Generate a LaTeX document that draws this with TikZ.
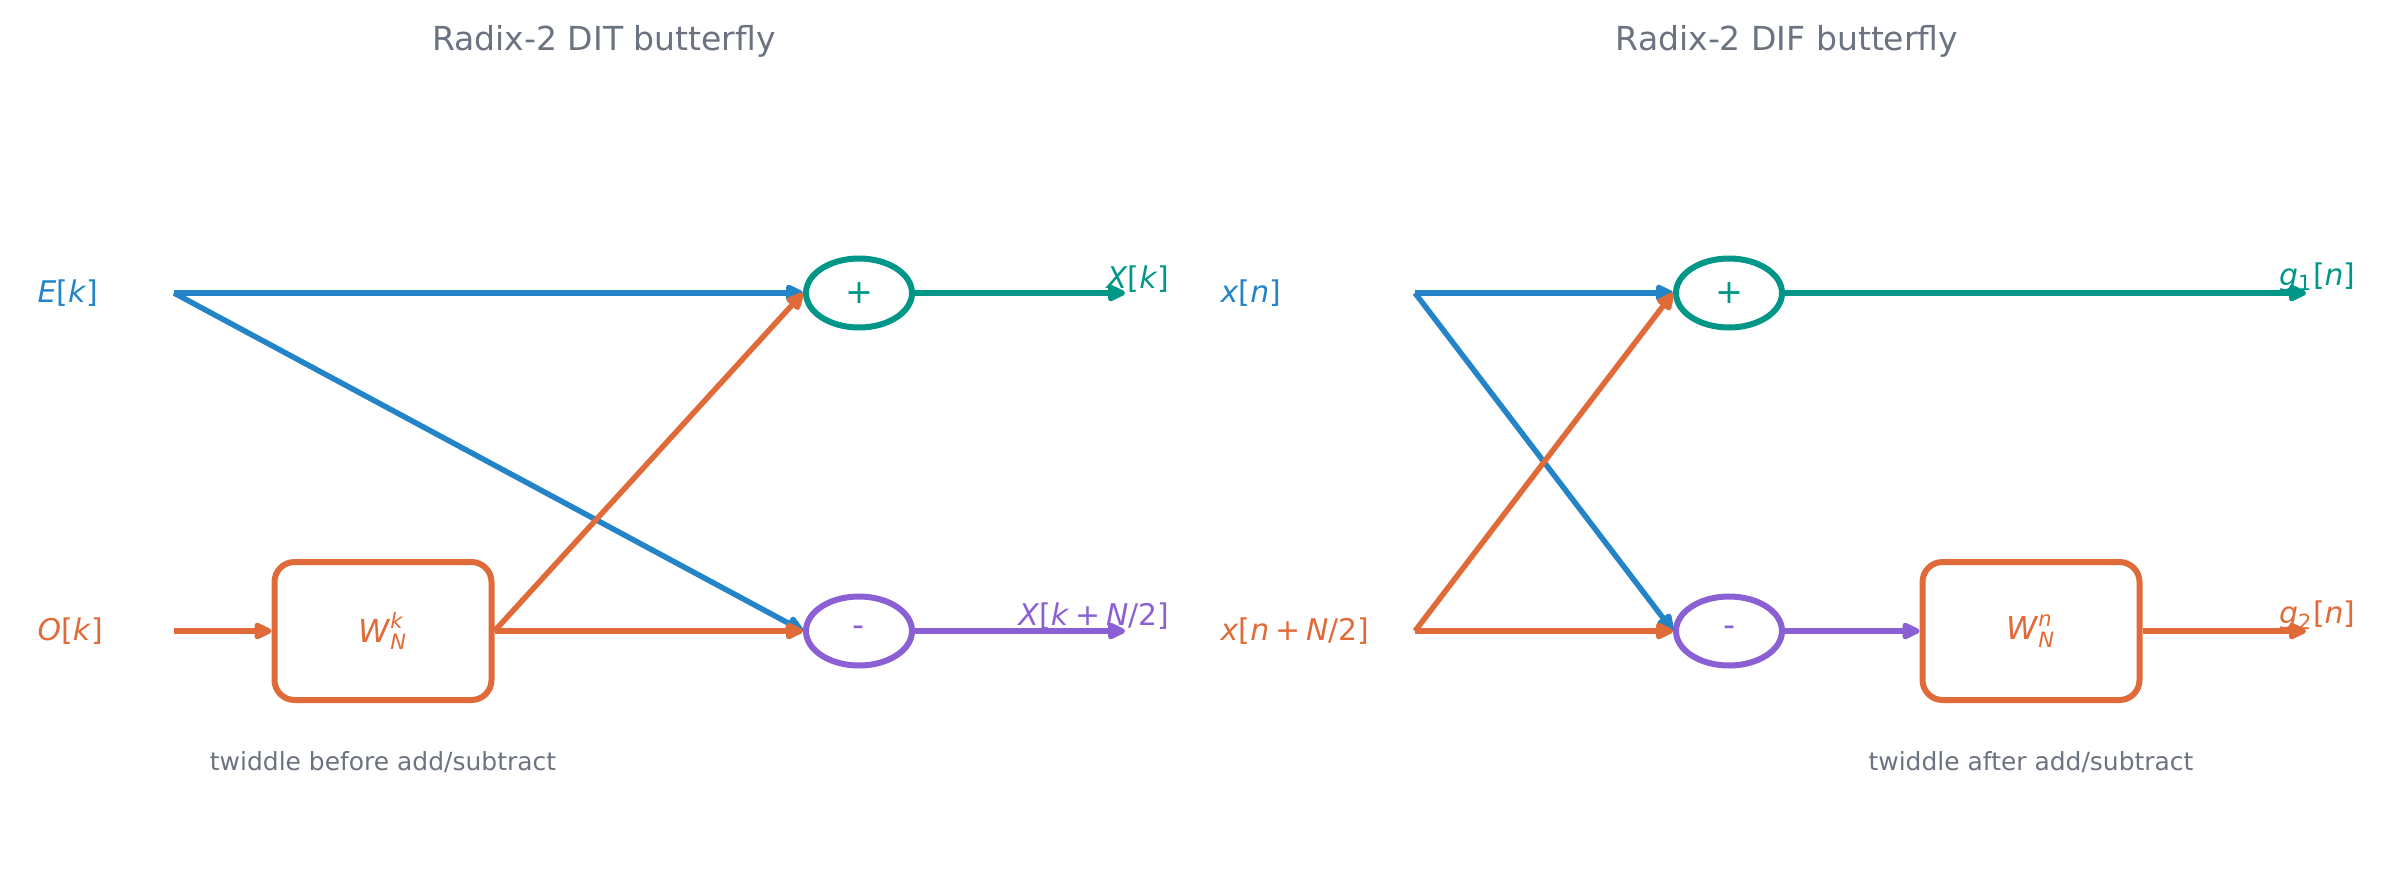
\documentclass[tikz,border=0pt]{standalone}
\usepackage{fontspec}
\usepackage{amsmath}
\setmainfont{DejaVu Sans}
\usetikzlibrary{arrows.meta,shapes.geometric}
\definecolor{cblue}{RGB}{36,132,200}
\definecolor{cteal}{RGB}{0,150,136}
\definecolor{corange}{RGB}{224,106,56}
\definecolor{cpurple}{RGB}{138,96,212}
\definecolor{cgray}{RGB}{107,114,128}
\newcommand{\pl}{\hspace{0.2em}+\hspace{0.2em}}
\begin{document}
\begin{tikzpicture}[x=0.1mm,y=-0.1mm,
  conn/.style={line width=0.55mm, -{Triangle[length=2.1mm,width=1.8mm,round]}},
  sumnode/.style={ellipse, draw, line width=0.6mm, minimum width=10.6mm, minimum height=6.9mm, inner sep=0pt, font=\fontsize{9.5}{11}\selectfont},
  twbox/.style={draw=corange, line width=0.6mm, rounded corners=2mm, minimum width=21.7mm, minimum height=13.8mm, inner sep=0pt, text=corange, font=\fontsize{9}{10}\selectfont},
  sig/.style={inner sep=0pt, font=\fontsize{8.5}{10}\selectfont},
  ttl/.style={text=cgray, inner sep=0pt, font=\fontsize{9.4}{11}\selectfont},
  note/.style={text=cgray, inner sep=0pt, font=\fontsize{7.1}{9}\selectfont}]
\useasboundingbox (0,0) rectangle (2391,871);

% titles
\node[ttl] (t1) at (604,41) {Radix-2 DIT butterfly};
\node[ttl] (t2) at (1787,41) {Radix-2 DIF butterfly};

% ---------- DIT ----------
\node[sig, text=cblue, anchor=west] (Ek) at (37,293) {\textit{E}[\textit{k}]};
\node[sig, text=corange, anchor=west] (Ok) at (37,631) {\textit{O}[\textit{k}]};
\coordinate (e0) at (174,293);
\coordinate (o0) at (174,631);
\node[twbox] (w1) at (383,631) {\textit{W}$^{\text{\textit{k}}}_{\text{\textit{N}}}$};
\node[sumnode, draw=cteal, text=cteal] (p1) at (859,293) {+};
\node[sumnode, draw=cpurple, text=cpurple] (m1) at (859,631) {-};
\coordinate (x0) at (1125,293);
\coordinate (x1) at (1125,631);
\node[sig, text=cteal, anchor=east] (Xk) at (1170,279) {\textit{X}[\textit{k}]};
\node[sig, text=cpurple, anchor=east] (Xk2) at (1170,616) {\textit{X}[\textit{k}\pl\textit{N}/2]};
\node[note] (n1) at (383,762) {twiddle before add/subtract};

\draw[conn, cblue] (e0) -- (m1.west);
\draw[conn, cblue] (e0) -- (p1.west);
\draw[conn, corange] (o0) -- (w1.west);
\draw[conn, corange] (w1.east) -- (p1.west);
\draw[conn, corange] (w1.east) -- (m1.west);
\draw[conn, cteal] (p1.east) -- (x0);
\draw[conn, cpurple] (m1.east) -- (x1);

% ---------- DIF ----------
\node[sig, text=cblue, anchor=west] (xn) at (1220,293) {\textit{x}[\textit{n}]};
\node[sig, text=corange, anchor=west] (xn2) at (1220,631) {\textit{x}[\textit{n}\pl\textit{N}/2]};
\coordinate (a0) at (1415,293);
\coordinate (b0) at (1415,631);
\node[sumnode, draw=cteal, text=cteal] (p2) at (1729,293) {+};
\node[sumnode, draw=cpurple, text=cpurple] (m2) at (1729,631) {-};
\node[twbox] (w2) at (2031,631) {\textit{W}$^{\text{\textit{n}}}_{\text{\textit{N}}}$};
\coordinate (g1e) at (2306,293);
\coordinate (g2e) at (2306,631);
\node[sig, text=cteal, anchor=east] (g1) at (2356,277) {\textit{g}$_{\text{1}}$[\textit{n}]};
\node[sig, text=corange, anchor=east] (g2) at (2356,615) {\textit{g}$_{\text{2}}$[\textit{n}]};
\node[note] (n2) at (2031,762) {twiddle after add/subtract};

\draw[conn, cblue] (a0) -- (p2.west);
\draw[conn, cblue] (a0) -- (m2.west);
\draw[conn, corange] (b0) -- (p2.west);
\draw[conn, corange] (b0) -- (m2.west);
\draw[conn, cteal] (p2.east) -- (g1e);
\draw[conn, cpurple] (m2.east) -- (w2.west);
\draw[conn, corange] (w2.east) -- (g2e);
\end{tikzpicture}
\end{document}
